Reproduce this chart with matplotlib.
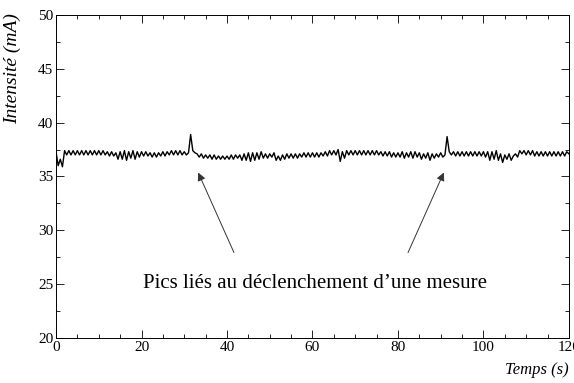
import matplotlib
matplotlib.use("Agg")
import matplotlib.pyplot as plt
from matplotlib.ticker import MultipleLocator
import numpy as np

plt.rcParams['font.family'] = ['Liberation Serif', 'DejaVu Serif']

# courant mesuré, un point toutes les 0.5 s de 0 à 120 s
dt = 0.5
courant = [
    37.3, 36.0, 36.6, 35.9, 37.4, 37.0, 37.4, 37.0, 37.4, 37.0, 37.4, 37.0, 37.4, 37.0, 37.4, 37.0, 37.4, 37.0, 37.4, 37.0,
    37.4, 37.0, 37.4, 37.0, 37.3, 36.9, 37.3, 36.9, 37.2, 36.6, 37.3, 36.6, 37.4, 36.5, 37.3, 36.7, 37.4, 36.6, 37.3, 36.8,
    37.3, 36.9, 37.3, 36.9, 37.2, 36.8, 37.2, 36.8, 37.2, 36.9, 37.3, 36.9, 37.3, 37.0, 37.4, 37.0, 37.4, 37.0, 37.4, 37.0,
    37.3, 37.0, 37.2, 38.9, 37.4, 37.2, 37.1, 36.8, 37.1, 36.7, 37.0, 36.7, 37.0, 36.6, 37.0, 36.6, 36.9, 36.6, 36.9, 36.6,
    36.9, 36.6, 37.0, 36.6, 37.0, 36.7, 37.0, 36.5, 37.1, 36.5, 37.2, 36.4, 37.2, 36.5, 37.2, 36.6, 37.3, 36.7, 37.1, 36.7,
    37.1, 36.8, 37.2, 36.5, 36.9, 36.5, 37.0, 36.6, 37.1, 36.7, 37.1, 36.7, 37.1, 36.7, 37.1, 36.8, 37.2, 36.8, 37.2, 36.8,
    37.2, 36.8, 37.2, 36.8, 37.2, 36.9, 37.3, 36.9, 37.4, 37.0, 37.4, 37.0, 37.5, 36.4, 37.3, 36.7, 37.4, 37.0, 37.4, 37.0,
    37.4, 37.0, 37.4, 37.0, 37.4, 37.0, 37.4, 37.0, 37.4, 37.0, 37.4, 37.0, 37.3, 36.9, 37.3, 36.9, 37.3, 36.8, 37.2, 36.8,
    37.2, 36.8, 37.3, 36.7, 37.2, 36.8, 37.3, 36.7, 37.3, 36.8, 37.2, 36.6, 37.1, 36.7, 37.2, 36.5, 37.1, 36.7, 37.1, 36.8,
    37.2, 36.8, 37.0, 38.7, 37.3, 37.0, 37.3, 36.9, 37.3, 36.9, 37.3, 36.9, 37.3, 36.9, 37.3, 36.9, 37.3, 36.9, 37.3, 36.9,
    37.3, 36.8, 37.3, 36.5, 37.3, 36.6, 37.4, 36.5, 37.1, 36.3, 37.0, 36.6, 37.1, 36.5, 36.9, 37.1, 36.8, 37.4, 37.1, 37.4,
    37.0, 37.4, 37.0, 37.4, 36.9, 37.3, 36.9, 37.3, 36.9, 37.3, 36.9, 37.3, 36.9, 37.3, 36.9, 37.3, 36.9, 37.3, 36.9, 37.3,
    37.1,
]
temps = np.arange(len(courant)) * dt

# pics annotés (s)
pics_t = [33.0, 91.0]
texte = "Pics liés au déclenchement d\u2019une mesure"

fig = plt.figure(figsize=(5.74, 3.83), dpi=100)
ax = fig.add_axes([0.0976, 0.1175, 0.8935, 0.8435])

ax.plot(temps, courant, color="black", linewidth=1.0)

ax.set_xlim(0, 120)
ax.set_ylim(20, 50)
ax.xaxis.set_major_locator(MultipleLocator(20))
ax.xaxis.set_minor_locator(MultipleLocator(5))
ax.yaxis.set_major_locator(MultipleLocator(5))
ax.yaxis.set_minor_locator(MultipleLocator(2.5))
ax.tick_params(which="both", direction="in", top=True, right=True, labelsize=11, pad=2)
ax.tick_params(which="major", length=6, width=0.6)
ax.tick_params(which="minor", length=3, width=0.6)
for s in ax.spines.values():
    s.set_linewidth(0.7)

ax.set_ylabel("Intensité (mA)", fontstyle="italic", fontsize=14)
ax.yaxis.set_label_coords(-0.068, 0.835)
fig.text(0.99, 0.035, "Temps (s)", fontstyle="italic", fontsize=12, ha="right", va="center")

ax.text(60.6, 25.1, texte, fontsize=15, ha="center", va="center")
ax.annotate("", xy=(pics_t[0], 35.6), xytext=(41.9, 27.7),
            arrowprops=dict(arrowstyle="-|>", lw=0.7, color="#333333", mutation_scale=12))
ax.annotate("", xy=(pics_t[1], 35.6), xytext=(82.1, 27.7),
            arrowprops=dict(arrowstyle="-|>", lw=0.7, color="#333333", mutation_scale=12))

fig.savefig("out.png", dpi=100)
